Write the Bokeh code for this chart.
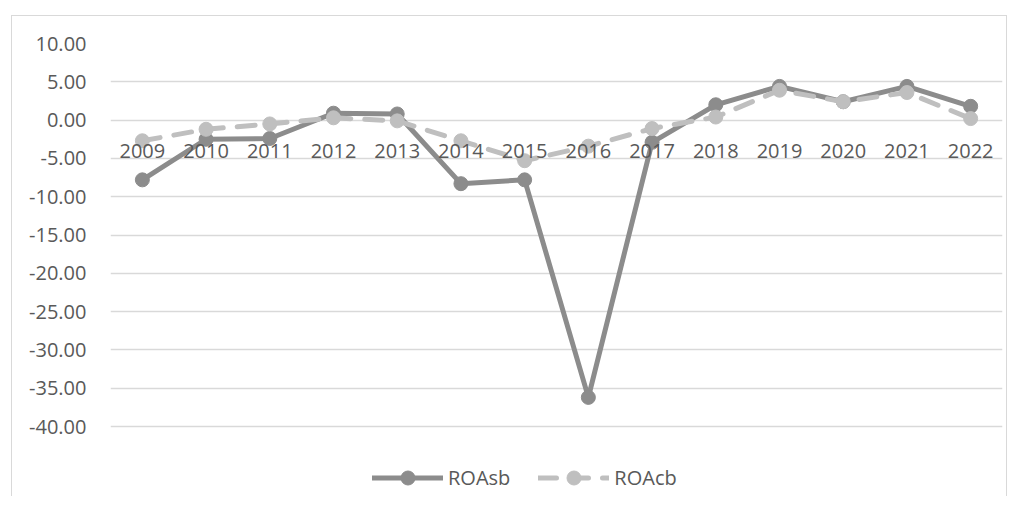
from bokeh.plotting import figure
from bokeh.models import (FactorRange, Range1d, FixedTicker, NumeralTickFormatter,
                          Legend, LegendItem, ColumnDataSource)
from bokeh.embed import file_html
from bokeh.resources import INLINE

years = ["2009", "2010", "2011", "2012", "2013", "2014", "2015",
         "2016", "2017", "2018", "2019", "2020", "2021", "2022"]
roa_sb = [-7.8, -2.5, -2.4, 0.9, 0.8, -8.3, -7.8, -36.2, -2.9, 2.0, 4.4, 2.4, 4.4, 1.8]
roa_cb = [-2.7, -1.2, -0.5, 0.3, -0.1, -2.7, -5.3, -3.4, -1.1, 0.4, 3.9, 2.4, 3.6, 0.2]
y_ticks = [-40, -35, -30, -25, -20, -15, -10, -5, 0, 5, 10]

FONT = "Open Sans"
TXT = "#595959"
DARK = "#8c8c8c"
LIGHT = "#bfbfbf"

src = ColumnDataSource(dict(year=years, sb=roa_sb, cb=roa_cb))

px_per_unit = 7.66
frame_h = 453
y_top = 10
y_bottom = y_top - frame_h / px_per_unit

p = figure(
    x_range=FactorRange(*years, range_padding=0),
    y_range=Range1d(y_bottom, y_top),
    frame_width=892, frame_height=frame_h,
    min_border_left=98, min_border_right=4, min_border_top=27, min_border_bottom=0,
    output_backend="svg", toolbar_location=None,
    styles={"border-left": "1px solid #d9d9d9", "border-top": "1px solid #d9d9d9",
            "border-right": "1px solid #d9d9d9", "margin-left": "11px", "margin-top": "15px"},
)
p.outline_line_color = None
p.background_fill_color = "white"
p.border_fill_color = "white"

# y axis
p.yaxis.ticker = FixedTicker(ticks=y_ticks)
p.yaxis.formatter = NumeralTickFormatter(format="0.00")
p.yaxis.axis_line_color = None
p.yaxis.major_tick_line_color = None
p.yaxis.minor_tick_line_color = None
p.yaxis.major_label_standoff = 18
p.yaxis.major_label_text_font = FONT
p.yaxis.major_label_text_font_size = "20px"
p.yaxis.major_label_text_color = TXT

# x axis at zero
p.xaxis.fixed_location = 0
p.xaxis.axis_line_color = None
p.xaxis.major_tick_line_color = None
p.xaxis.minor_tick_line_color = None
p.xaxis.major_label_standoff = 18
p.xaxis.major_label_text_font = FONT
p.xaxis.major_label_text_font_size = "20px"
p.xaxis.major_label_text_color = TXT

p.xgrid.visible = False
p.ygrid.ticker = FixedTicker(ticks=y_ticks)
p.ygrid.grid_line_color = "#d9d9d9"
p.ygrid.grid_line_width = 1.5

l1 = p.line("year", "sb", source=src, line_color=DARK, line_width=5, line_join="round", line_cap="round")
s1 = p.scatter("year", "sb", source=src, size=14, fill_color=DARK, line_color=DARK)
l2 = p.line("year", "cb", source=src, line_color=LIGHT, line_width=5, line_dash="18 14",
            line_join="round", line_cap="round")
s2 = p.scatter("year", "cb", source=src, size=14, fill_color=LIGHT, line_color=LIGHT)

legend = Legend(
    items=[LegendItem(label="ROAsb", renderers=[l1, s1]),
           LegendItem(label="ROAcb", renderers=[l2, s2])],
    orientation="horizontal", location=(262, 1), padding=0, margin=0,
    border_line_color=None, background_fill_alpha=0,
    glyph_width=71, glyph_height=35, label_standoff=5, spacing=28,
    label_text_font=FONT, label_text_font_size="20px", label_text_color=TXT,
)
p.add_layout(legend)

open("out.html", "w").write(file_html(p, INLINE))
